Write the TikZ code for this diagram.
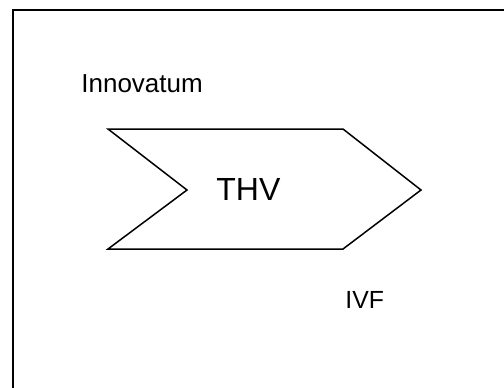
\documentclass[tikz,border=0pt]{standalone}
\usepackage{fontspec}
\setmainfont{Liberation Sans}
\usetikzlibrary{positioning}

\begin{document}
\begin{tikzpicture}[
  x=0.5pt, y=-0.5pt,
  frame/.style={draw, line width=1pt},
  chev/.style={draw, line width=0.75pt, line join=miter},
  lbl/.style={inner sep=0pt, anchor=base west, font=\fontsize{12.4}{14}\selectfont},
  big/.style={lbl, font=\fontsize{16}{18}\selectfont}
]
\useasboundingbox (0,0) rectangle (504,387);
\clip (0,0) rectangle (504,387);
% outer frame, cut off at right and bottom
\draw[frame] (12.7,10) rectangle (530,420);

% the arrow shape
\draw[chev] (108,129) -- (343,129) -- (421,190) -- (343,249) -- (108,249) -- (187,190) -- cycle;

\node[big] (thv) at (216,200.7) {THV};
\node[lbl, font=\fontsize{13}{15}\selectfont] (innov) at (81,92) {Innovatum};
\node[lbl] (ivf) at (345,308) {IVF};
\end{tikzpicture}
\end{document}
